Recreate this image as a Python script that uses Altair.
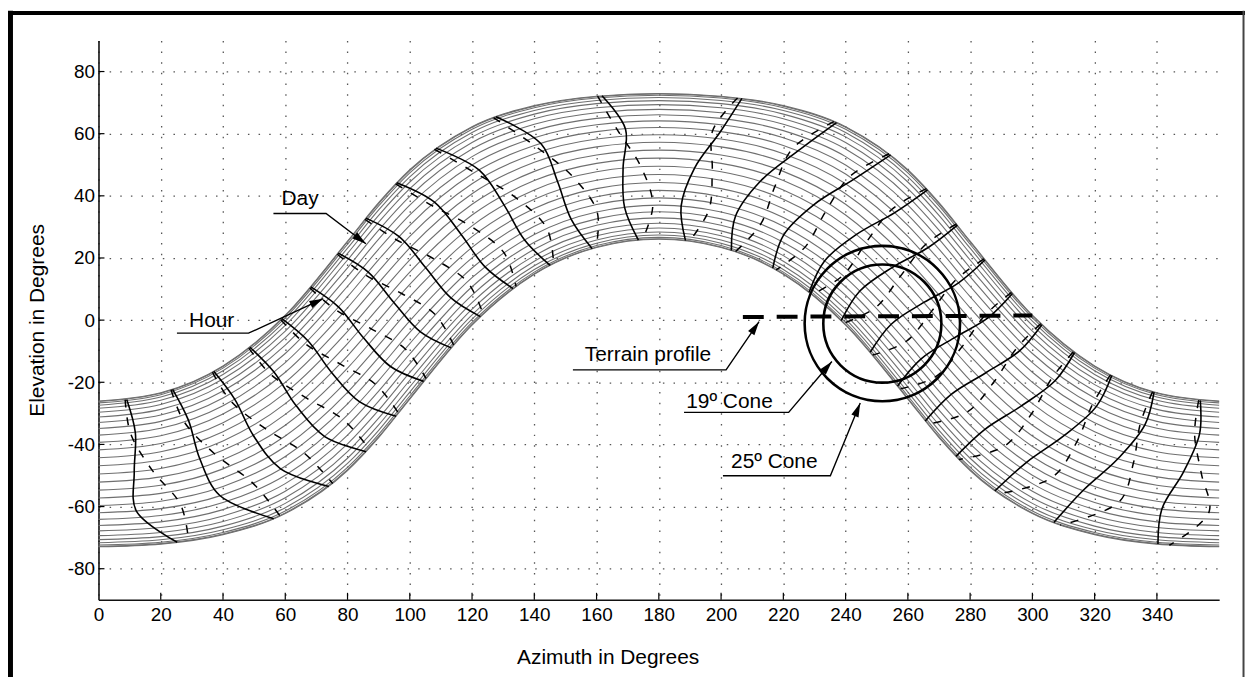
import math
import altair as alt
import pandas as pd

# ---------------- data ----------------
# Day paths: elevation (deg) at these azimuth knots; the diagram is symmetric about 180 deg
AZ_KNOTS = [0, 20, 40, 60, 80, 90, 100, 120, 140, 160, 180]
DAY_PATHS = [
    [-26.05, -23.39, -14.75, 1.58, 25.41, 37.79, 48.39, 62.26, 69.03, 72.07, 72.95],
    [-26.20, -23.55, -14.93, 1.37, 25.15, 37.52, 48.13, 62.05, 68.85, 71.91, 72.80],
    [-26.64, -24.00, -15.45, 0.75, 24.41, 36.74, 47.39, 61.43, 68.33, 71.46, 72.36],
    [-27.37, -24.76, -16.31, -0.30, 23.15, 35.46, 46.13, 60.38, 67.47, 70.70, 71.63],
    [-28.37, -25.80, -17.48, -1.71, 21.47, 33.72, 44.45, 58.97, 66.30, 69.66, 70.63],
    [-29.64, -27.13, -18.97, -3.51, 19.35, 31.54, 42.33, 57.17, 64.81, 68.33, 69.36],
    [-31.17, -28.72, -20.76, -5.64, 16.84, 28.97, 39.82, 55.04, 63.02, 66.74, 67.83],
    [-32.92, -30.54, -22.80, -8.06, 14.01, 26.06, 36.99, 52.62, 60.98, 64.92, 66.08],
    [-34.88, -32.58, -25.07, -10.74, 10.90, 22.87, 33.88, 49.94, 58.71, 62.88, 64.12],
    [-37.02, -34.80, -27.55, -13.65, 7.54, 19.44, 30.52, 47.03, 56.23, 60.66, 61.98],
    [-39.33, -37.19, -30.21, -16.77, 3.97, 15.78, 26.95, 43.91, 53.57, 58.27, 59.67],
    [-41.76, -39.71, -33.00, -20.02, 0.25, 11.98, 23.23, 40.66, 50.78, 55.75, 57.25],
    [-44.28, -42.33, -35.91, -23.40, -3.60, 8.05, 19.38, 37.28, 47.87, 53.13, 54.72],
    [-46.88, -45.01, -38.88, -26.85, -7.53, 4.04, 15.45, 33.83, 44.90, 50.45, 52.13],
    [-49.50, -47.73, -41.89, -30.34, -11.49, 0.00, 11.49, 30.34, 41.89, 47.73, 49.50],
    [-52.13, -50.45, -44.90, -33.83, -15.45, -4.04, 7.53, 26.85, 38.88, 45.01, 46.88],
    [-54.72, -53.13, -47.87, -37.28, -19.38, -8.05, 3.60, 23.40, 35.91, 42.33, 44.28],
    [-57.25, -55.75, -50.78, -40.66, -23.23, -11.98, -0.25, 20.02, 33.00, 39.71, 41.76],
    [-59.67, -58.27, -53.57, -43.91, -26.95, -15.78, -3.97, 16.77, 30.21, 37.19, 39.33],
    [-61.98, -60.66, -56.23, -47.03, -30.52, -19.44, -7.54, 13.65, 27.55, 34.80, 37.02],
    [-64.12, -62.88, -58.71, -49.94, -33.88, -22.87, -10.90, 10.74, 25.07, 32.58, 34.88],
    [-66.08, -64.92, -60.98, -52.62, -36.99, -26.06, -14.01, 8.06, 22.80, 30.54, 32.92],
    [-67.83, -66.74, -63.02, -55.04, -39.82, -28.97, -16.84, 5.64, 20.76, 28.72, 31.17],
    [-69.36, -68.33, -64.81, -57.17, -42.33, -31.54, -19.35, 3.51, 18.97, 27.13, 29.64],
    [-70.63, -69.66, -66.30, -58.97, -44.45, -33.72, -21.47, 1.71, 17.48, 25.80, 28.37],
    [-71.63, -70.70, -67.47, -60.38, -46.13, -35.46, -23.15, 0.30, 16.31, 24.76, 27.37],
    [-72.36, -71.46, -68.33, -61.43, -47.39, -36.74, -24.41, -0.75, 15.45, 24.00, 26.64],
    [-72.80, -71.91, -68.85, -62.05, -48.13, -37.52, -25.15, -1.37, 14.93, 23.55, 26.20],
    [-72.95, -72.07, -69.03, -62.26, -48.39, -37.79, -25.41, -1.58, 14.75, 23.39, 26.05],
]

# Hour lines, first half of the year (solid): [azimuth, elevation] from summer to winter edge
SOLID_HOUR_LINES = [
    [[9.07, -25.52], [11.83, -36.16], [11.48, -48.93], [12.14, -61.37], [25.29, -71.49]],
    [[23.80, -22.27], [28.88, -32.18], [32.54, -44.63], [38.97, -56.43], [56.30, -63.89]],
    [[37.02, -16.49], [43.74, -25.43], [49.75, -37.11], [58.50, -47.85], [73.99, -53.54]],
    [[48.66, -8.73], [56.37, -16.69], [63.51, -27.58], [72.68, -37.47], [85.97, -42.33]],
    [[58.92, 0.47], [67.27, -6.65], [74.94, -16.92], [83.91, -26.32], [95.62, -30.94]],
    [[68.21, 10.68], [77.14, 4.20], [85.12, -5.69], [93.80, -14.93], [104.46, -19.71]],
    [[76.99, 21.56], [86.65, 15.47], [94.88, 5.69], [103.31, -3.68], [113.29, -8.93]],
    [[85.89, 32.83], [96.59, 26.85], [105.06, 16.92], [113.21, 7.14], [122.70, 1.14]],
    [[95.80, 44.22], [107.92, 37.97], [116.49, 27.58], [124.17, 17.14], [133.17, 10.14]],
    [[108.41, 55.35], [122.31, 48.29], [130.25, 37.11], [136.89, 25.81], [145.09, 17.60]],
    [[127.68, 65.47], [142.17, 56.74], [147.46, 44.63], [151.86, 32.45], [158.61, 23.00]],
    [[161.75, 72.22], [169.31, 61.45], [168.52, 48.93], [169.00, 36.28], [173.44, 25.77]],
    [[206.70, 71.34], [199.71, 60.54], [191.48, 48.93], [187.16, 36.67], [188.57, 25.57]],
    [[237.09, 63.58], [224.69, 54.45], [212.54, 44.63], [204.65, 33.53], [203.32, 22.42]],
    [[254.47, 53.18], [242.57, 45.27], [229.75, 37.11], [220.12, 27.42], [216.60, 16.71]],
    [[266.32, 41.95], [255.80, 34.62], [243.51, 27.58], [233.29, 19.11], [228.29, 9.01]],
    [[275.92, 30.56], [266.56, 23.37], [254.94, 16.92], [244.57, 9.35], [238.59, -0.15]],
    [[284.75, 19.34], [276.28, 11.99], [265.12, 5.69], [254.64, -1.32], [247.91, -10.33]],
    [[293.59, 8.58], [285.82, 0.81], [274.88, -5.69], [264.17, -12.52], [256.70, -21.19]],
    [[303.03, -1.46], [295.94, -9.83], [285.06, -16.92], [273.91, -23.91], [265.59, -32.45]],
    [[313.54, -10.42], [307.29, -19.53], [296.49, -27.58], [284.74, -35.14], [275.45, -43.84]],
    [[325.51, -17.82], [320.57, -27.75], [310.25, -37.11], [298.12, -45.75], [287.93, -54.99]],
    [[339.09, -23.15], [336.14, -33.73], [327.46, -44.63], [316.27, -54.84], [306.88, -65.15]],
    [[353.94, -25.82], [353.69, -36.71], [348.52, -48.93], [341.60, -60.75], [340.34, -72.07]],
]

# Hour lines, second half of the year (dashed)
DASHED_HOUR_LINES = [
    [[8.57, -25.57], [10.28, -36.39], [17.17, -48.21], [26.43, -59.50], [28.95, -71.11]],
    [[23.32, -22.42], [27.50, -32.69], [37.27, -42.98], [49.59, -52.45], [58.36, -63.08]],
    [[36.60, -16.71], [42.57, -26.13], [53.52, -34.84], [66.09, -42.80], [75.24, -52.60]],
    [[48.29, -9.01], [55.37, -17.52], [66.58, -24.96], [78.54, -31.95], [86.89, -41.34]],
    [[58.59, 0.15], [66.39, -7.57], [77.60, -14.11], [88.96, -20.63], [96.40, -29.95]],
    [[67.91, 10.33], [76.31, 3.23], [87.60, -2.81], [98.55, -9.27], [105.21, -18.75]],
    [[76.70, 21.19], [85.82, 14.48], [97.39, 8.57], [108.16, 1.81], [114.07, -8.02]],
    [[85.59, 32.45], [95.67, 25.87], [107.79, 19.69], [118.52, 12.28], [123.55, 1.97]],
    [[95.45, 43.84], [106.81, 37.04], [119.71, 30.13], [130.27, 21.68], [134.13, 10.87]],
    [[107.93, 54.99], [120.82, 47.47], [134.24, 39.25], [144.08, 29.43], [146.18, 18.17]],
    [[126.89, 65.15], [140.06, 56.16], [152.44, 46.07], [160.20, 34.77], [159.86, 23.38]],
    [[160.34, 72.07], [166.63, 61.31], [174.27, 49.35], [178.06, 36.93], [174.74, 25.90]],
    [[205.29, 71.49], [197.28, 60.92], [197.17, 48.21], [196.10, 35.52], [189.87, 25.44]],
    [[236.30, 63.89], [222.92, 55.17], [217.27, 42.98], [212.68, 30.80], [204.57, 22.04]],
    [[253.99, 53.54], [241.29, 46.16], [233.52, 34.84], [226.97, 23.49], [217.69, 16.14]],
    [[265.97, 42.33], [254.80, 35.58], [246.58, 24.96], [239.12, 14.38], [229.25, 8.28]],
    [[275.62, 30.94], [265.69, 24.36], [257.60, 14.11], [249.72, 4.11], [239.44, -0.98]],
    [[284.46, 19.71], [275.45, 12.97], [267.60, 2.81], [259.43, -6.88], [248.69, -11.24]],
    [[293.29, 8.93], [284.97, 1.76], [277.39, -8.57], [268.96, -18.21], [257.45, -22.15]],
    [[302.70, -1.14], [295.00, -8.95], [287.79, -19.69], [279.12, -29.57], [266.37, -33.44]],
    [[313.17, -10.14], [306.21, -18.75], [299.71, -30.13], [290.99, -40.56], [276.37, -44.83]],
    [[325.09, -17.60], [319.30, -27.14], [314.24, -39.25], [306.42, -50.56], [289.18, -55.93]],
    [[338.61, -23.00], [334.67, -33.36], [332.44, -46.07], [328.00, -58.33], [308.95, -65.97]],
    [[353.44, -25.77], [352.11, -36.63], [354.27, -49.35], [356.72, -61.82], [344.00, -72.45]],
]

X_TICKS = [0, 20, 40, 60, 80, 100, 120, 140, 160, 180, 200, 220, 240, 260, 280, 300, 320, 340]
Y_TICKS = [-80, -60, -40, -20, 0, 20, 40, 60, 80]

TERRAIN_AZ = [207.0, 240.0, 270.0, 300.0]
TERRAIN_EL = [1.0, 1.2, 1.3, 1.5]

CONE_LABELS = ["19º Cone", "25º Cone"]
CONE_AZ = [251.8, 251.8]
CONE_EL = [-1.1, -1.1]
CONE_RADIUS = [19.0, 25.0]

LABEL_TEXT = ["Day", "Hour", "Terrain profile", "19º Cone", "25º Cone"]
LABEL_AZ = [58.8, 29.1, 156.2, 188.8, 203.2]
LABEL_EL = [37.1, -2.2, -13.1, -28.2, -47.7]

# leader: underline start, underline end, arrow tip
LEADERS = [
    [[56.2, 34.3], [73.1, 34.3], [85.9, 24.6]],
    [[25.2, -4.2], [48.2, -4.2], [72.2, 6.9]],
    [[152.4, -16.0], [201.6, -16.0], [212.2, -0.5]],
    [[188.1, -29.7], [221.7, -29.7], [235.6, -13.3]],
    [[200.6, -50.1], [235.1, -50.1], [244.7, -26.7]],
]

# ---------------- layout ----------------
W, H = 1127, 562.5
PX_X = W / 360.0
PX_Y = H / 180.0
FONT = "Liberation Sans"

XS = alt.Scale(domain=[0, 360], nice=False, zero=False)
YS = alt.Scale(domain=[-90, 90], nice=False, zero=False)

x_axis = alt.Axis(values=X_TICKS, title="Azimuth in Degrees", grid=True, gridColor="#555555",
                  gridDash=[1.5, 9.2], gridWidth=1.3, ticks=False, domainColor="#111111",
                  domainWidth=1.6, labelFont=FONT, labelFontSize=19, labelColor="black",
                  labelPadding=6, labelFlush=False, labelExpr="'' + datum.value",
                  titleFont=FONT, titleFontSize=21,
                  titleFontWeight="normal", titleColor="black", titleX=512, titleY=58,
                  titleAlign="center", titleBaseline="middle")
y_axis = alt.Axis(values=Y_TICKS, title="Elevation in Degrees", grid=True, gridColor="#555555",
                  gridDash=[1.5, 9.2], gridWidth=1.3, ticks=False, domainColor="#111111",
                  domainWidth=1.6, labelFont=FONT, labelFontSize=19, labelColor="black",
                  labelPadding=4, labelExpr="'' + datum.value",
                  titleFont=FONT, titleFontSize=21, titleFontWeight="normal",
                  titleColor="black", titleX=-61, titleY=281, titleAngle=270,
                  titleAlign="center", titleBaseline="middle")


def X(field="az"):
    return alt.X(f"{field}:Q", scale=XS, axis=x_axis)


def Y(field="el"):
    return alt.Y(f"{field}:Q", scale=YS, axis=y_axis)


# day lines table
full_az = AZ_KNOTS + [360 - a for a in reversed(AZ_KNOTS[:-1])]
day_rows = []
for i, path in enumerate(DAY_PATHS):
    full_el = path + list(reversed(path[:-1]))
    for a, e in zip(full_az, full_el):
        day_rows.append({"line": i, "az": a, "el": e})
day_df = pd.DataFrame(day_rows)


def hour_table(lines):
    rows = []
    for i, pts in enumerate(lines):
        for k, (a, e) in enumerate(pts):
            rows.append({"line": i, "idx": k, "az": a, "el": e})
    return pd.DataFrame(rows)


solid_df = hour_table(SOLID_HOUR_LINES)
dashed_df = hour_table(DASHED_HOUR_LINES)

day_layer = alt.Chart(day_df).mark_line(
    color="#6f6f6f", strokeWidth=1.1, interpolate="monotone"
).encode(x=X(), y=Y(), detail="line:N")

solid_layer = alt.Chart(solid_df).mark_line(
    color="black", strokeWidth=1.6, interpolate="catmull-rom"
).encode(x=X(), y=Y(), detail="line:N", order="idx:Q")

dashed_layer = alt.Chart(dashed_df).mark_line(
    color="black", strokeWidth=1.5, strokeDash=[8, 10], interpolate="catmull-rom"
).encode(x=X(), y=Y(), detail="line:N", order="idx:Q")

terrain_df = pd.DataFrame({"az": TERRAIN_AZ, "el": TERRAIN_EL})
terrain_layer = alt.Chart(terrain_df).mark_line(
    color="black", strokeWidth=4, strokeDash=[21, 13]
).encode(x=X(), y=Y())

cone_df = pd.DataFrame({
    "az": CONE_AZ, "el": CONE_EL, "cone": CONE_LABELS,
    "sz": [(2 * r * PX_Y) ** 2 for r in CONE_RADIUS],
})
cone_layer = alt.Chart(cone_df).mark_point(
    shape="circle", filled=False, stroke="black", strokeWidth=2.6, opacity=1
).encode(x=X(), y=Y(), size=alt.Size("sz:Q", scale=None, legend=None))

leader_rows = []
head_rows = []
for i, pts in enumerate(LEADERS):
    for k, (a, e) in enumerate(pts):
        leader_rows.append({"line": i, "idx": k, "az": a, "el": e})
    (a1, e1), (a2, e2) = pts[-2], pts[-1]
    dx = (a2 - a1) * PX_X
    dy = -(e2 - e1) * PX_Y
    ang = math.degrees(math.atan2(dx, -dy)) % 360
    head_rows.append({"az": a2, "el": e2, "ang": ang})
leader_df = pd.DataFrame(leader_rows)
head_df = pd.DataFrame(head_rows)

leader_layer = alt.Chart(leader_df).mark_line(color="black", strokeWidth=1.4).encode(
    x=X(), y=Y(), detail="line:N", order="idx:Q")

ARROW = "M0,0L0.5,1.8L-0.5,1.8Z"
head_layer = alt.Chart(head_df).mark_point(
    shape=ARROW, filled=True, fill="black", strokeWidth=0, size=240, opacity=1
).encode(x=X(), y=Y(), angle=alt.Angle("ang:Q", scale=None))

label_df = pd.DataFrame({"az": LABEL_AZ, "el": LABEL_EL, "txt": LABEL_TEXT})
label_layer = alt.Chart(label_df).mark_text(
    align="left", baseline="alphabetic", font=FONT, fontSize=21, color="black"
).encode(x=X(), y=Y(), text="txt:N")

xt_df = pd.DataFrame({"az": X_TICKS[1:]})
xtick_layer = alt.Chart(xt_df).mark_rule(color="black", strokeWidth=1.2).encode(
    x=X(), y=alt.value(H), y2=alt.value(H - 7))
yt_df = pd.DataFrame({"el": Y_TICKS})
ytick_layer = alt.Chart(yt_df).mark_rule(color="black", strokeWidth=1.2).encode(
    y=Y(), x=alt.value(0), x2=alt.value(6))

# outer frame of the figure
frame_df = pd.DataFrame({"k": [0]})
frame_left = alt.Chart(frame_df).mark_rule(color="black", strokeWidth=5).encode(
    x=alt.value(-88.5), y=alt.value(-30), y2=alt.value(H + 80))
frame_top = alt.Chart(frame_df).mark_rule(color="black", strokeWidth=4).encode(
    y=alt.value(-27.5), x=alt.value(-91), x2=alt.value(1153))
frame_right = alt.Chart(frame_df).mark_rule(color="#444444", strokeWidth=2).encode(
    x=alt.value(1151.5), y=alt.value(-30), y2=alt.value(H + 80))

chart = alt.layer(
    day_layer, solid_layer, dashed_layer, terrain_layer, cone_layer,
    leader_layer, head_layer, label_layer, xtick_layer, ytick_layer,
    frame_left, frame_top, frame_right,
).properties(
    width=W, height=H,
    padding={"left": 91, "top": 30.75, "right": 28, "bottom": 76},
    autosize=alt.AutoSizeParams(type="none"),
    background="white",
).configure_view(stroke=None)

chart.save("out.html", embed_options={"renderer": "svg", "actions": False})
